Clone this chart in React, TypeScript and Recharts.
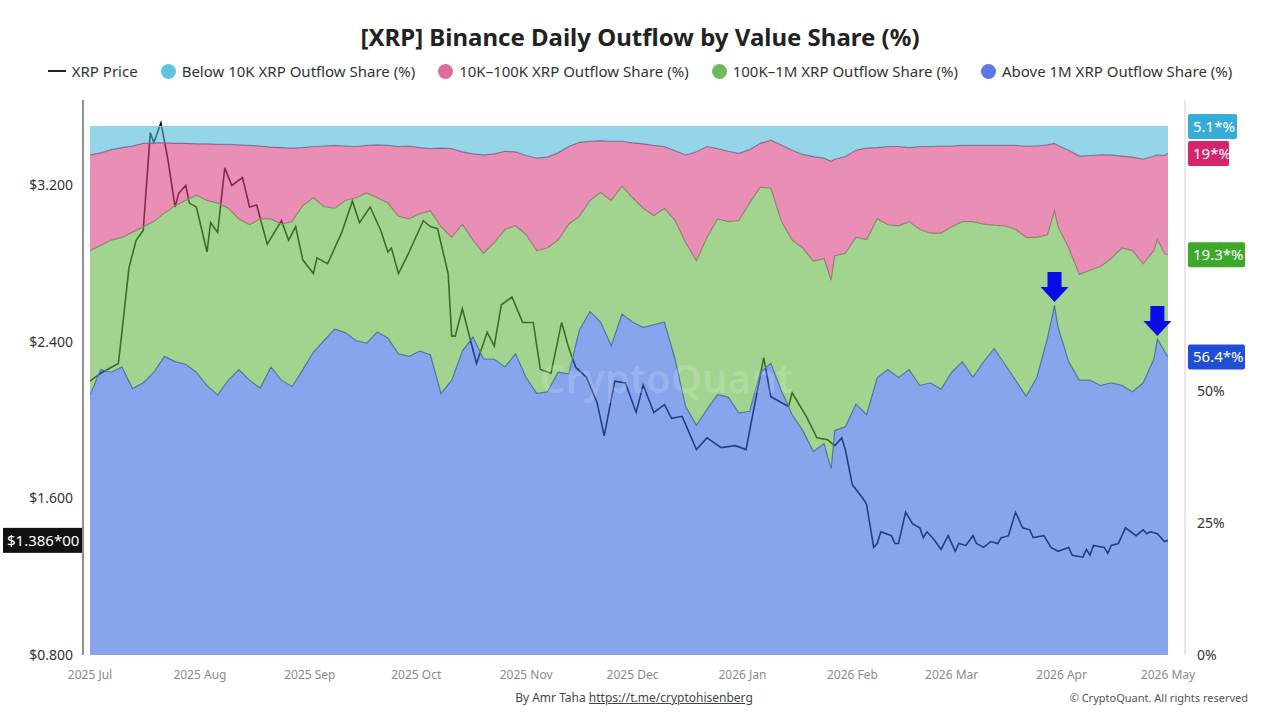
import { ComposedChart, Area, Line, XAxis, YAxis, ReferenceLine, ReferenceDot } from "recharts"

const FONT = '"Noto Sans", "Open Sans", sans-serif'

// days counted from 2025-07-01
const shareDays = [
  0, 3, 6, 9, 12, 15, 18, 21, 24, 27,
  30, 33, 36, 39, 42, 45, 48, 51, 54, 57,
  60, 63, 66, 69, 72, 75, 78, 81, 84, 87,
  90, 93, 96, 99, 102, 105, 108, 111, 114, 117,
  120, 123, 126, 129, 132, 135, 138, 141, 144, 147,
  150, 153, 156, 159, 162, 165, 168, 171, 174, 177,
  180, 183, 186, 189, 192, 195, 198, 201, 204, 207,
  209,
  210, 213, 216, 219, 222, 225, 228, 231, 234, 237,
  240, 243, 246, 249, 252, 255, 258, 261, 264, 267,
  270, 272,
  273, 276, 279, 282, 285, 288, 291, 294, 297, 300,
  301, 303, 304,
]

const above1M = [
  49.2, 54.0, 53.5, 54.5, 50.4, 51.5, 53.5, 56.5, 55.5, 55.0,
  53.5, 51.0, 49.2, 52.0, 54.0, 52.0, 50.5, 54.5, 52.0, 50.8,
  54.0, 57.3, 59.5, 61.7, 61.0, 59.5, 59.0, 61.1, 60.0, 57.0,
  56.5, 57.5, 56.8, 49.5, 52.0, 57.5, 60.2, 56.0, 56.0, 54.5,
  57.0, 52.5, 49.5, 49.8, 53.5, 53.2, 61.5, 65.0, 63.0, 58.5,
  64.5, 63.0, 62.0, 62.5, 63.0, 56.0, 47.0, 43.5, 46.5, 49.3,
  48.8, 45.8, 46.1, 53.5, 55.2, 50.0, 45.5, 42.5, 38.5, 40.0,
  35.3,
  42.5, 43.2, 47.5, 45.5, 52.5, 54.0, 52.5, 54.0, 51.0, 51.5,
  50.3, 53.5, 55.5, 52.6, 55.5, 58.0, 55.0, 52.0, 49.0, 52.5,
  60.0, 66.2,
  62.0, 55.5, 52.0, 52.0, 51.0, 51.5, 51.0, 49.8, 51.5, 56.0,
  59.8, 57.5, 56.4,
]

const k100To1M = [
  27.3, 23.5, 25.0, 24.5, 29.6, 29.5, 28.5, 27.1, 29.5, 31.0,
  33.5, 35.0, 36.3, 32.5, 28.5, 29.4, 32.0, 28.0, 29.5, 31.2,
  31.0, 29.2, 25.3, 22.8, 25.0, 27.0, 28.4, 25.4, 25.5, 26.0,
  26.0, 26.0, 27.2, 31.5, 27.0, 24.0, 18.3, 20.0, 22.0, 26.0,
  24.2, 27.0, 27.0, 27.2, 25.0, 28.3, 21.5, 21.0, 24.5, 27.5,
  24.2, 23.5, 22.5, 20.6, 21.5, 26.2, 31.0, 31.1, 32.5, 33.2,
  33.2, 36.4, 39.4, 35.0, 33.1, 32.0, 33.0, 34.5, 36.0, 35.0,
  35.6,
  33.0, 32.8, 31.5, 33.1, 30.0, 27.4, 28.7, 28.0, 29.5, 28.3,
  29.5, 27.5, 26.5, 29.4, 26.0, 23.3, 26.2, 28.5, 30.0, 26.5,
  19.5, 17.8,
  19.0, 21.5, 20.0, 20.8, 22.5, 23.5, 26.0, 26.7, 22.5, 20.5,
  18.8, 18.5, 19.3,
]

const k10To100K = [
  18.1, 17.5, 17.1, 17.0, 16.3, 15.8, 14.9, 13.3, 11.8, 10.8,
  9.7, 10.7, 11.1, 12.1, 14.0, 15.0, 13.8, 13.6, 14.5, 13.9,
  11.0, 9.7, 11.5, 11.9, 10.3, 9.7, 9.0, 10.0, 10.9, 13.2,
  13.8, 12.5, 11.8, 14.9, 16.8, 13.7, 16.3, 18.6, 16.8, 14.8,
  14.0, 15.0, 17.5, 17.2, 16.5, 14.7, 14.0, 11.2, 9.8, 11.2,
  8.5, 10.4, 12.2, 13.3, 11.7, 13.2, 16.6, 20.6, 17.2, 13.3,
  13.3, 12.7, 10.1, 8.3, 9.1, 14.5, 17.0, 17.7, 19.8, 19.0,
  22.5,
  18.3, 18.3, 16.5, 17.3, 13.5, 14.8, 15.0, 14.0, 15.7, 16.4,
  16.5, 15.3, 14.4, 14.4, 14.9, 15.1, 15.2, 15.9, 17.3, 17.3,
  17.0, 12.8,
  15.4, 18.5, 22.4, 21.7, 21.1, 19.6, 17.4, 17.7, 19.8, 17.9,
  16.0, 18.5, 19.2,
]

const below10K = [
  5.4, 5.0, 4.4, 4.0, 3.7, 3.2, 3.1, 3.1, 3.2, 3.2,
  3.3, 3.3, 3.4, 3.4, 3.5, 3.6, 3.7, 3.9, 4.0, 4.1,
  4.0, 3.8, 3.7, 3.6, 3.7, 3.8, 3.6, 3.5, 3.6, 3.8,
  3.7, 4.0, 4.2, 4.1, 4.2, 4.8, 5.2, 5.4, 5.2, 4.7,
  4.8, 5.5, 6.0, 5.8, 5.0, 3.8, 3.0, 2.8, 2.7, 2.8,
  2.8, 3.1, 3.3, 3.6, 3.8, 4.6, 5.4, 4.8, 3.8, 4.2,
  4.7, 5.1, 4.4, 3.2, 2.6, 3.5, 4.5, 5.3, 5.7, 6.0,
  6.6,
  6.2, 5.7, 4.5, 4.1, 4.0, 3.8, 3.8, 4.0, 3.8, 3.8,
  3.7, 3.7, 3.6, 3.6, 3.6, 3.6, 3.6, 3.6, 3.7, 3.7,
  3.5, 3.2,
  3.6, 4.5, 5.6, 5.5, 5.4, 5.4, 5.6, 5.8, 6.2, 5.6,
  5.4, 5.5, 5.1,
]

const priceDays = [
  0, 3, 8, 9, 11, 13, 15, 17, 18, 20,
  22, 24, 25, 27, 28, 30, 33, 34, 36, 38,
  40, 43, 45, 47, 50, 54, 56, 58, 60, 63,
  64, 67, 71, 74, 76, 79, 82, 84, 85, 87,
  90, 94, 96, 98, 101, 102, 103, 105, 109, 112,
  114, 116, 119, 122, 125, 127, 130, 133, 135, 137,
  140, 143, 145, 148, 151, 154, 156, 159, 162, 164,
  167, 171, 174, 178, 182, 185, 190, 192, 197, 198,
  202, 205, 208, 210, 212, 213, 215, 218, 219, 221,
  222, 223, 226, 227, 228, 230, 232, 234, 235, 236,
  238, 240, 242, 244, 245, 247, 249, 250, 252, 254,
  256, 257, 259, 261, 263, 265, 266, 269, 271, 273,
  276, 277, 280, 281, 282, 283, 286, 287, 288, 290,
  292, 295, 297, 298, 299, 301, 303, 304,
]

const priceValues = [
  2.2, 2.24, 2.29, 2.45, 2.78, 2.92, 2.97, 3.47, 3.42, 3.52,
  3.33, 3.09, 3.16, 3.2, 3.11, 3.09, 2.86, 3.01, 2.96, 3.29,
  3.2, 3.24, 3.09, 3.1, 2.9, 3.02, 2.92, 2.99, 2.82, 2.75,
  2.83, 2.8, 2.96, 3.12, 3.01, 3.09, 2.97, 2.86, 2.88, 2.75,
  2.86, 3.02, 2.99, 2.98, 2.75, 2.43, 2.43, 2.57, 2.29, 2.45,
  2.38, 2.59, 2.63, 2.5, 2.5, 2.26, 2.24, 2.5, 2.37, 2.27,
  2.22, 2.09, 1.92, 2.2, 2.19, 2.04, 2.18, 2.04, 2.08, 2.01,
  2.02, 1.85, 1.91, 1.86, 1.87, 1.85, 2.32, 2.12, 2.07, 2.14,
  2.02, 1.91, 1.9, 1.87, 1.91, 1.85, 1.67, 1.6, 1.57, 1.35,
  1.37, 1.43, 1.41, 1.37, 1.37, 1.53, 1.47, 1.45, 1.4, 1.43,
  1.39, 1.34, 1.41, 1.33, 1.37, 1.36, 1.41, 1.37, 1.35, 1.38,
  1.37, 1.4, 1.41, 1.53, 1.45, 1.44, 1.4, 1.41, 1.35, 1.33,
  1.35, 1.31, 1.3, 1.34, 1.31, 1.36, 1.35, 1.32, 1.36, 1.37,
  1.45, 1.41, 1.44, 1.42, 1.43, 1.42, 1.38, 1.386,
]

const monthTicks = [0, 31, 62, 92, 123, 153, 184, 215, 243, 274, 304]
const monthLabels = [
  "2025 Jul", "2025 Aug", "2025 Sep", "2025 Oct", "2025 Nov", "2025 Dec",
  "2026 Jan", "2026 Feb", "2026 Mar", "2026 Apr", "2026 May",
]
const priceTicks = [0.8, 1.6, 2.4, 3.2]
const pctTicks = [0, 25, 50]
const arrowDays = [272, 301]
const lastPriceTag = "$1.386*00"
const lastShareTags = ["5.1*%", "19*%", "19.3*%", "56.4*%"]

const C = {
  below: "#4db9d7",
  small: "#da4485",
  mid: "#64b744",
  above: "#3967df",
}

const shareRows = shareDays.map((day, i) => ({
  day,
  above: above1M[i],
  mid: k100To1M[i],
  small: k10To100K[i],
  below: below10K[i],
}))

const priceRows = priceDays.map((day, i) => ({ day, price: priceValues[i] }))

const rightTag = (text: string, color: string) => (props: any) => {
  const vb = props.viewBox || {}
  const x = vb.x + vb.width + 3
  const y = vb.y
  const w = 9 + text.length * 8
  return (
    <g>
      <rect x={x} y={y - 12.5} width={w} height={25} rx={2} fill={color} />
      <text x={x + 5} y={y + 5.5} fill="#fff" fontSize={15} fontFamily={FONT}>
        {text}
      </text>
    </g>
  )
}

const leftTag = (props: any) => {
  const vb = props.viewBox || {}
  const x = vb.x - 80
  const y = vb.y
  return (
    <g>
      <rect x={x} y={y - 12.5} width={79} height={25} fill="#111" />
      <text x={x + 4} y={y + 5.5} fill="#fff" fontSize={15} fontFamily={FONT}>
        {lastPriceTag}
      </text>
    </g>
  )
}

function DownArrow(props: any) {
  const { cx, cy } = props
  const tip = cy - 3
  const pts = [
    [cx - 7, tip - 30], [cx + 7, tip - 30], [cx + 7, tip - 15], [cx + 14, tip - 15],
    [cx, tip], [cx - 14, tip - 15], [cx - 7, tip - 15],
  ]
  return <polygon points={pts.map((p) => p.join(",")).join(" ")} fill="#0b0be8" />
}

function LegendItem({ color, label, line }: { color: string; label: string; line?: boolean }) {
  return (
    <div style={{ display: "flex", alignItems: "center", gap: 6 }}>
      {line ? (
        <span style={{ width: 18, height: 2, background: "#222", display: "inline-block" }} />
      ) : (
        <span style={{ width: 15, height: 15, borderRadius: "50%", background: color, display: "inline-block" }} />
      )}
      <span>{label}</span>
    </div>
  )
}

export default function App() {
  const last = shareRows[shareRows.length - 1]
  const stackTops = [
    100,
    last.above + last.mid + last.small,
    last.above + last.mid,
    last.above,
  ]
  const tagColors = ["#37acd8", "#d4266f", "#3da82a", "#1f4fd8"]

  return (
    <div
      style={{
        position: "fixed",
        left: 0,
        top: 0,
        width: 1280,
        height: 720,
        background: "#fff",
        fontFamily: FONT,
        overflow: "hidden",
      }}
    >
      <div style={{ position: "absolute", left: 0, top: 0 }}>
        <ComposedChart width={1280} height={720} data={shareRows} margin={{ top: 100, right: 8, bottom: 35, left: 8 }}>
          <XAxis
            dataKey="day"
            type="number"
            domain={[0, 304]}
            ticks={monthTicks}
            interval={0}
            tickFormatter={(d) => monthLabels[monthTicks.indexOf(d)]}
            axisLine={false}
            tickLine={false}
            tick={{ fill: "#8a8a8a", fontSize: 12, fontFamily: FONT }}
            tickMargin={9}
            padding={{ left: 7, right: 17 }}
            height={30}
            allowDataOverflow
          />
          <YAxis
            yAxisId="price"
            orientation="left"
            width={75}
            domain={[0.8, 3.637]}
            ticks={priceTicks}
            tickFormatter={(v) => "$" + v.toFixed(3)}
            axisLine={{ stroke: "#222" }}
            tickLine={false}
            tick={{ fill: "#333", fontSize: 14, fontFamily: FONT }}
            tickMargin={4}
            allowDataOverflow
          />
          <YAxis
            yAxisId="pct"
            orientation="right"
            width={87}
            domain={[0, 105]}
            ticks={pctTicks}
            tickFormatter={(v) => v + "%"}
            axisLine={{ stroke: "#d0d0d0" }}
            tickLine={false}
            tick={{ fill: "#333", fontSize: 14, fontFamily: FONT }}
            tickMargin={6}
            allowDataOverflow
          />
          <Line
            yAxisId="price"
            data={priceRows}
            dataKey="price"
            type="linear"
            stroke="#000"
            strokeWidth={1.6}
            dot={false}
            zIndex={50}
            isAnimationActive={false}
          />
          <Area yAxisId="pct" dataKey="above" stackId="s" type="linear" fill={C.above} fillOpacity={0.6}
            stroke="#4466bb" strokeWidth={1.2} isAnimationActive={false} />
          <Area yAxisId="pct" dataKey="mid" stackId="s" type="linear" fill={C.mid} fillOpacity={0.6}
            stroke="#7a9c6c" strokeWidth={1.2} isAnimationActive={false} />
          <Area yAxisId="pct" dataKey="small" stackId="s" type="linear" fill={C.small} fillOpacity={0.6}
            stroke="#9c5480" strokeWidth={1.2} isAnimationActive={false} />
          <Area yAxisId="pct" dataKey="below" stackId="s" type="linear" fill={C.below} fillOpacity={0.6}
            stroke="#8ccfe2" strokeWidth={1} isAnimationActive={false} />
          {arrowDays.map((d) => (
            <ReferenceDot
              key={d}
              yAxisId="pct"
              x={d}
              y={above1M[shareDays.indexOf(d)]}
              r={0}
              shape={(p: any) => <DownArrow cx={p.cx} cy={p.cy} />}
            />
          ))}
          {stackTops.map((v, i) => (
            <ReferenceLine
              key={i}
              yAxisId="pct"
              y={v}
              stroke="#000"
              strokeOpacity={0}
              label={rightTag(lastShareTags[i], tagColors[i])}
            />
          ))}
          <ReferenceLine
            yAxisId="price"
            y={priceValues[priceValues.length - 1]}
            stroke="#000"
            strokeOpacity={0}
            label={leftTag}
          />
        </ComposedChart>
      </div>

      <div
        style={{
          position: "absolute",
          left: 0,
          top: 20,
          width: 1280,
          textAlign: "center",
          fontSize: 24,
          fontWeight: 700,
          color: "#222",
        }}
      >
        [XRP] Binance Daily Outflow by Value Share (%)
      </div>

      <div
        style={{
          position: "absolute",
          left: 0,
          top: 61,
          width: 1280,
          display: "flex",
          justifyContent: "center",
          alignItems: "center",
          gap: 23,
          fontSize: 15,
          color: "#333",
        }}
      >
        <LegendItem color="#222" label="XRP Price" line />
        <LegendItem color="#62c3e0" label="Below 10K XRP Outflow Share (%)" />
        <LegendItem color="#e06a98" label="10K–100K XRP Outflow Share (%)" />
        <LegendItem color="#6dbb5c" label="100K–1M XRP Outflow Share (%)" />
        <LegendItem color="#5b79e6" label="Above 1M XRP Outflow Share (%)" />
      </div>

      <div
        style={{
          position: "absolute",
          left: 540,
          top: 350,
          fontSize: 40,
          fontWeight: 600,
          color: "rgba(255,255,255,0.16)",
        }}
      >
        CryptoQuant
      </div>

      <div
        style={{
          position: "absolute",
          left: 0,
          top: 689,
          width: 1268,
          textAlign: "center",
          fontSize: 12,
          color: "#444",
        }}
      >
        By Amr Taha <span style={{ textDecoration: "underline" }}>https://t.me/cryptohisenberg</span>
      </div>
      <div style={{ position: "absolute", right: 32, top: 690, fontSize: 11, color: "#555" }}>
        © CryptoQuant. All rights reserved
      </div>
    </div>
  )
}
